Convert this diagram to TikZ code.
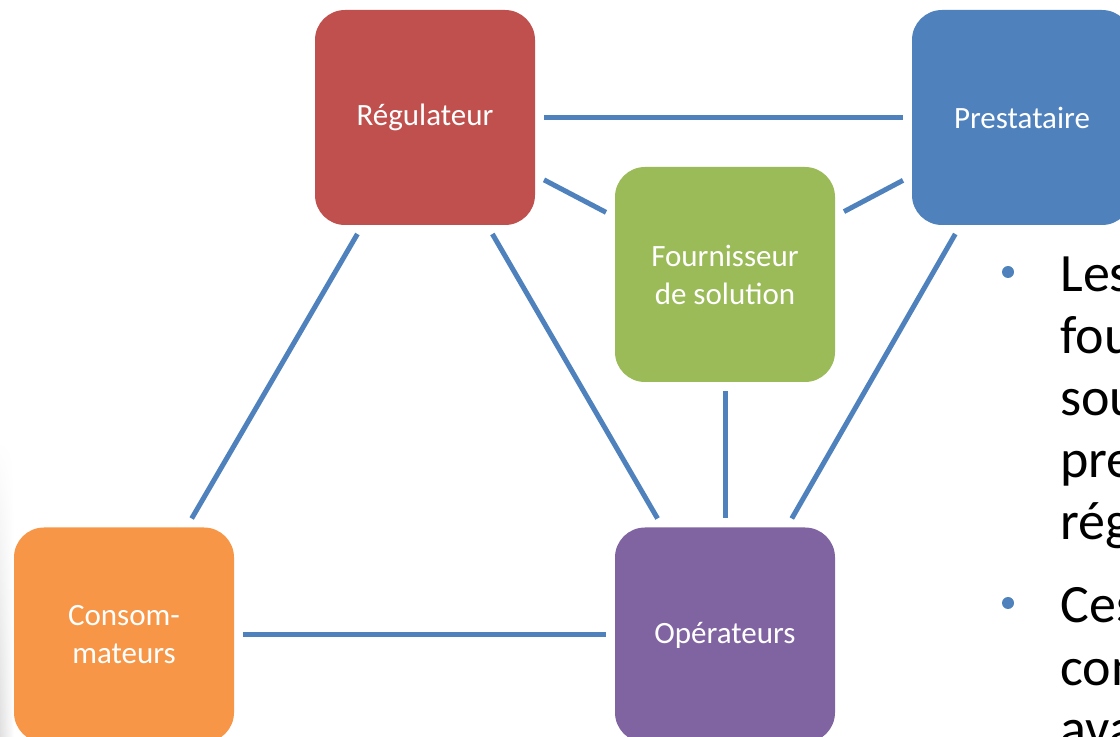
\documentclass[tikz,border=0pt]{standalone}
\usepackage{fontspec}
\setmainfont{Carlito}
\usetikzlibrary{fadings}
\definecolor{rouge}{HTML}{C0504D}
\definecolor{bleu}{HTML}{4F81BD}
\definecolor{vert}{HTML}{9BBB59}
\definecolor{orange}{HTML}{F79646}
\definecolor{violet}{HTML}{8064A2}
\begin{document}
\begin{tikzpicture}[x=0.5pt, y=-0.5pt]
	\tikzset{boite/.style={rectangle, rounded corners=15pt, minimum width=110pt, minimum height=107.5pt, inner sep=2pt, text=white, align=center, font=\fontsize{15.5}{19}\selectfont, outer sep=4.5pt}, lien/.style={draw=bleu, line width=2.5pt}, ligne/.style={anchor=base west, inner sep=0pt, font=\fontsize{27}{31}\selectfont}, puce/.style={circle, fill=bleu, inner sep=0pt, minimum size=6pt}};

	\useasboundingbox (0,0) rectangle (1120,737);
	\clip (0,0) rectangle (1120,737);

	% ombre de la diapositive
	\shade[left color=black!12, right color=white, path fading=north] (0,440) rectangle (14,737);

	\node[boite, fill=rouge]  (reg) at ( 425, 117.5) {Régulateur};
	\node[boite, fill=bleu]   (pre) at (1022, 117.5) {Prestataire};
	\node[boite, fill=vert]   (fou) at ( 725, 274.5) {Fournisseur\\de solution};
	\node[boite, fill=orange] (con) at ( 124,   635) {Consom-\\mateurs};
	\node[boite, fill=violet] (ope) at ( 725,   635) {Opérateurs};

	\draw[lien] (reg) -- (pre);
	\draw[lien] (reg) -- (fou);
	\draw[lien] (fou) -- (pre);
	\draw[lien] (reg) -- (con);
	\draw[lien] (reg) -- (ope);
	\draw[lien] (pre) -- (ope);
	\draw[lien] (fou) -- (ope);
	\draw[lien] (con) -- (ope);

	% texte coupe a droite
	\node[puce] (p1) at (1008, 272) {};
	\node[puce] (p2) at (1008, 603) {};
	\node[ligne] (l1) at (1060, 292) {Les};
	\node[ligne] (l2) at (1060, 354) {fou};
	\node[ligne] (l3) at (1060, 416) {sou};
	\node[ligne] (l4) at (1060, 478) {pre};
	\node[ligne] (l5) at (1060, 540) {rég};
	\node[ligne] (l6) at (1060, 623) {Ces};
	\node[ligne] (l7) at (1060, 685) {con};
	\node[ligne] (l8) at (1060, 747) {ava};
\end{tikzpicture}
\end{document}
